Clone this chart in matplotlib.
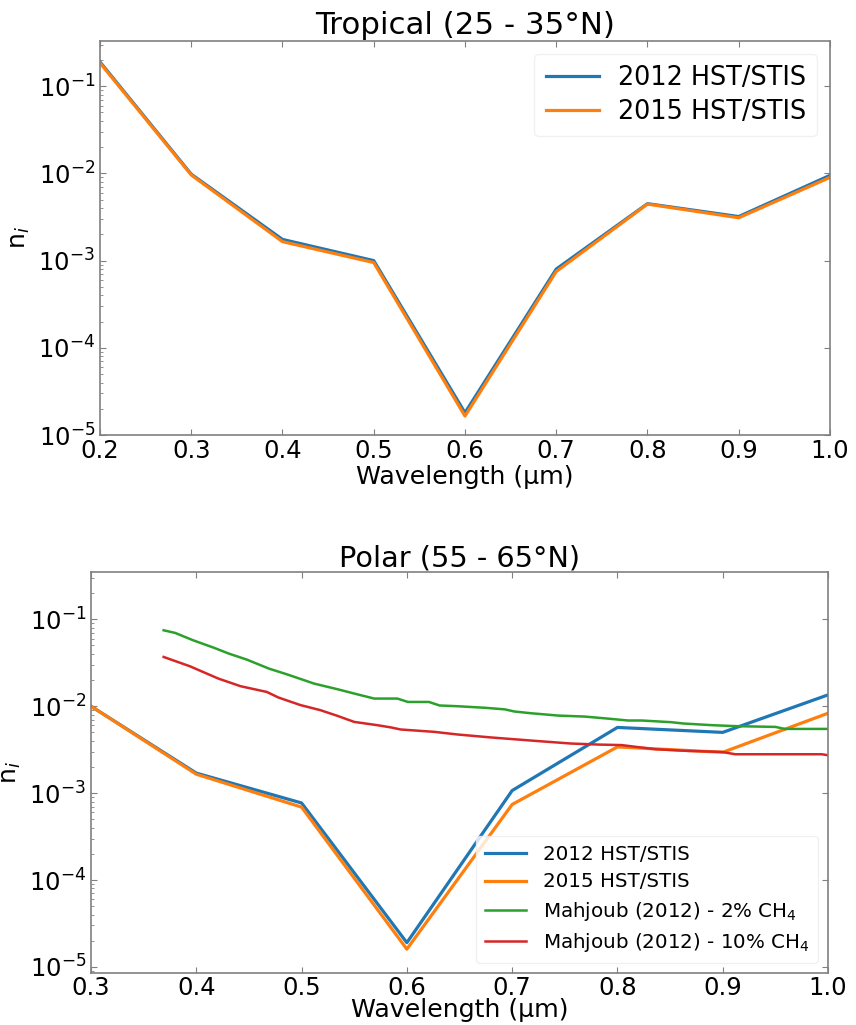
import numpy as np
import matplotlib
matplotlib.use("Agg")
import matplotlib.pyplot as plt
from matplotlib.ticker import LogLocator, NullFormatter

# ---------------- data ----------------
wl_trop = [0.2, 0.3, 0.4, 0.5, 0.6, 0.7, 0.8, 0.9, 1.0]
trop_2012 = [0.19, 0.0098, 1.75e-3, 1.0e-3, 1.8e-5, 8.0e-4, 4.5e-3, 3.2e-3, 9.5e-3]
trop_2015 = [0.185, 0.0096, 1.65e-3, 0.95e-3, 1.65e-5, 7.5e-4, 4.45e-3, 3.1e-3, 9.0e-3]

wl_polar = [0.3, 0.4, 0.5, 0.6, 0.7, 0.8, 0.9, 1.0]
polar_2012 = [1.0e-2, 1.7e-3, 7.7e-4, 1.9e-5, 1.07e-3, 5.7e-3, 5.0e-3, 1.35e-2]
polar_2015 = [1.0e-2, 1.65e-3, 6.9e-4, 1.6e-5, 7.4e-4, 3.4e-3, 2.95e-3, 8.3e-3]

wl_m2 = [0.369, 0.380, 0.397, 0.4165, 0.431, 0.448, 0.469, 0.486, 0.512, 0.534,
         0.553, 0.569, 0.591, 0.601, 0.621, 0.631, 0.648, 0.674, 0.693, 0.702,
         0.718, 0.744, 0.769, 0.791, 0.810, 0.823, 0.851, 0.863, 0.890, 0.912,
         0.950, 0.959, 1.0]
m2 = [0.0748, 0.0697, 0.0574, 0.0472, 0.0403, 0.0344, 0.0271, 0.0233, 0.0182, 0.0157,
      0.0137, 0.01225, 0.01225, 0.0112, 0.0112, 0.0102, 0.0100, 0.0096, 0.0092, 0.0087,
      0.0083, 0.0078, 0.0076, 0.0072, 0.00685, 0.00685, 0.00655, 0.00632, 0.00605, 0.0059,
      0.00578, 0.00548, 0.00548]

wl_m10 = [0.369, 0.394, 0.421, 0.442, 0.467, 0.478, 0.499, 0.518, 0.534, 0.550,
          0.572, 0.585, 0.594, 0.626, 0.648, 0.680, 0.721, 0.756, 0.782, 0.804,
          0.836, 0.867, 0.899, 0.912, 0.994, 1.0]
m10 = [0.0369, 0.0288, 0.0208, 0.0170, 0.0146, 0.0126, 0.0103, 0.0090, 0.00775, 0.0066,
       0.00605, 0.0057, 0.0054, 0.00507, 0.00473, 0.00437, 0.0040, 0.00372, 0.00362, 0.00357,
       0.0032, 0.00306, 0.00298, 0.0028, 0.0028, 0.00273]

title_top = "Tropical (25 - 35°N)"
title_bot = "Polar (55 - 65°N)"
lab_2012 = "2012 HST/STIS"
lab_2015 = "2015 HST/STIS"
lab_m2 = "Mahjoub (2012) - 2% CH$_4$"
lab_m10 = "Mahjoub (2012) - 10% CH$_4$"

c_blue, c_orange, c_green, c_red = "#1f77b4", "#ff7f0e", "#2ca02c", "#d62728"

fig = plt.figure(figsize=(8.56, 10.25), dpi=100)
ax1 = fig.add_axes([0.1168, 0.5756, 0.8528, 0.3844])
ax2 = fig.add_axes([0.1063, 0.0507, 0.8610, 0.3912])


def style(ax, tpad, lpad):
    ax.set_yscale("log")
    for sp in ax.spines.values():
        sp.set_color("#808080")
        sp.set_linewidth(1.2)
    ax.tick_params(which="both", direction="in", top=True, right=True,
                   colors="#808080", labelcolor="black", labelsize=17.5)
    ax.tick_params(which="major", length=4)
    ax.tick_params(which="minor", length=2, top=False, right=False)
    ax.tick_params(axis="x", pad=tpad)
    ax.yaxis.set_major_locator(LogLocator(base=10, numticks=10))
    ax.yaxis.set_minor_locator(LogLocator(base=10, subs=np.arange(2, 10), numticks=20))
    ax.yaxis.set_minor_formatter(NullFormatter())
    ax.set_xlabel("Wavelength (µm)", fontsize=18.2, labelpad=lpad)
    ax.set_ylabel("n$_i$", fontsize=18)


# top panel
ax1.plot(wl_trop, trop_2012, color=c_blue, lw=2.3, label=lab_2012)
ax1.plot(wl_trop, trop_2015, color=c_orange, lw=2.3, label=lab_2015)
style(ax1, 3, 1)
ax1.set_xlim(0.2, 1.0)
ax1.set_ylim(1e-5, 0.33)
ax1.set_xticks([0.2, 0.3, 0.4, 0.5, 0.6, 0.7, 0.8, 0.9, 1.0])
ax1.set_title(title_top, fontsize=22.2, pad=5)
ax1.legend(loc="upper right", fontsize=18.4, handlelength=2.07, handletextpad=0.74,
           labelspacing=0.3, borderpad=0.45, borderaxespad=0.5,
           framealpha=0.8, edgecolor="#eeeeee")

# bottom panel
ax2.plot(wl_polar, polar_2012, color=c_blue, lw=2.3, label=lab_2012)
ax2.plot(wl_polar, polar_2015, color=c_orange, lw=2.3, label=lab_2015)
ax2.plot(wl_m2, m2, color=c_green, lw=1.8, label=lab_m2)
ax2.plot(wl_m10, m10, color=c_red, lw=1.8, label=lab_m10)
style(ax2, 2, -1)
ax2.set_xlim(0.3, 1.0)
ax2.set_ylim(8.5e-6, 0.35)
ax2.set_xticks([0.3, 0.4, 0.5, 0.6, 0.7, 0.8, 0.9, 1.0])
ax2.set_title(title_bot, fontsize=20.7, pad=4)
ax2.legend(loc="lower right", fontsize=14.3, handlelength=2.06, handletextpad=0.84,
           labelspacing=0.42, borderpad=0.45, borderaxespad=0.5,
           framealpha=0.8, edgecolor="#eeeeee")

fig.savefig("out.png", dpi=100)
